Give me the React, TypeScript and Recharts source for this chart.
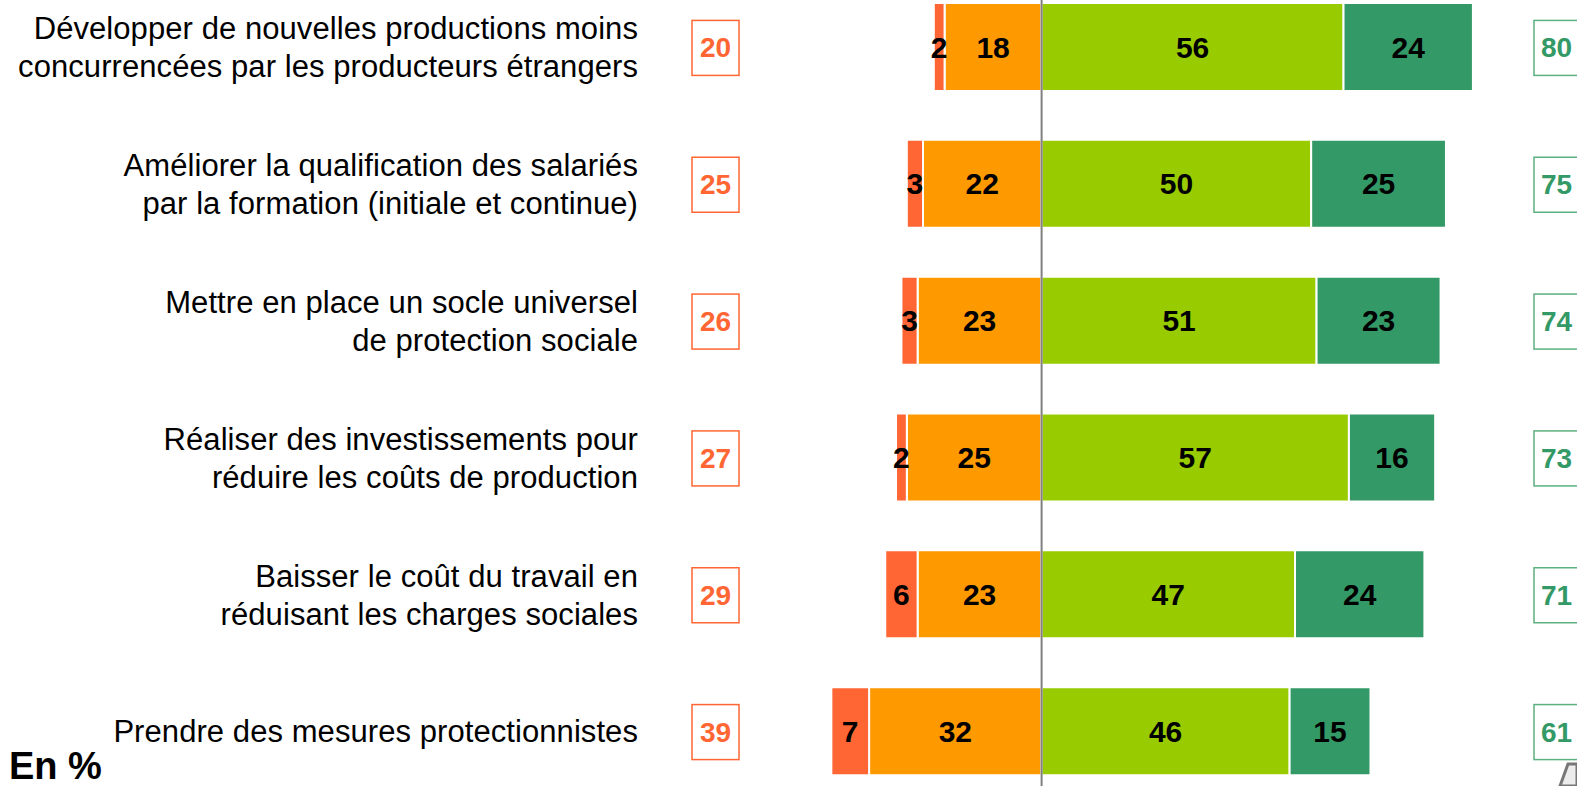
import { BarChart, Bar, XAxis, YAxis, ReferenceLine, LabelList } from "recharts";

const categories = [
  "Développer de nouvelles productions moins\nconcurrencées par les producteurs étrangers",
  "Améliorer la qualification des salariés\npar la formation (initiale et continue)",
  "Mettre en place un socle universel\nde protection sociale",
  "Réaliser des investissements pour\nréduire les coûts de production",
  "Baisser le coût du travail en\nréduisant les charges sociales",
  "Prendre des mesures protectionnistes",
];

// pas du tout efficace / plutôt pas efficace / plutôt efficace / très efficace
const notAtAll = [2, 3, 3, 2, 6, 7];
const ratherNot = [18, 22, 23, 25, 23, 32];
const rather = [56, 50, 51, 57, 47, 46];
const very = [24, 25, 23, 16, 24, 15];

const negTotals = [20, 25, 26, 27, 29, 39];
const posTotals = [80, 75, 74, 73, 71, 61];

const RED = "#FF6633";
const ORANGE = "#FF9900";
const LIGHT_GREEN = "#99CC00";
const DARK_GREEN = "#339966";

const data = categories.map((name, i) => ({
  name,
  ratherNot: -ratherNot[i],
  notAtAll: -notAtAll[i],
  rather: rather[i],
  very: very[i],
}));

function RowTick(props: any) {
  const { y, payload } = props;
  const idx = categories.indexOf(payload.value);
  const lines = String(payload.value).split("\n");
  const lineH = 38;
  const startY = y - ((lines.length - 1) * lineH) / 2;
  return (
    <g>
      <text textAnchor="end" fontSize={31} letterSpacing={0.07} fill="#000">
        {lines.map((l, k) => (
          <tspan key={k} x={638} y={startY + k * lineH} dy="0.35em">
            {l}
          </tspan>
        ))}
      </text>
      <rect x={692} y={y - 27} width={47} height={55} fill="#fff" stroke={RED} strokeWidth={1.5} />
      <text x={715.5} y={y} dy="0.36em" textAnchor="middle" fontSize={28} fontWeight="bold" fill={RED}>
        {negTotals[idx]}
      </text>
      <rect x={1534} y={y - 27} width={60} height={55} fill="#fff" stroke="#5DB07F" strokeWidth={1.5} />
      <text x={1541} y={y} dy="0.36em" textAnchor="start" fontSize={28} fontWeight="bold" fill={DARK_GREEN}>
        {posTotals[idx]}
      </text>
    </g>
  );
}

const absFmt = (v: any) => Math.abs(Number(v));
const labelStyle = { fill: "#000", fontSize: 30, fontWeight: "bold" as const };

export default function App() {
  return (
    <div
      style={{
        position: "absolute",
        left: 0,
        top: 0,
        width: 1577,
        height: 786,
        overflow: "hidden",
        background: "#fff",
        fontFamily: "'Liberation Sans', Arial, sans-serif",
      }}
    >
      <div style={{ position: "absolute", left: 0, top: -21 }}>
        <BarChart
          width={1577}
          height={821}
          data={data}
          layout="vertical"
          stackOffset="sign"
          barSize={88}
          margin={{ top: 0, right: 34, bottom: 0, left: 0 }}
        >
          <XAxis type="number" domain={[-45, 93]} allowDataOverflow hide />
          <YAxis
            type="category"
            dataKey="name"
            width={799}
            axisLine={false}
            tickLine={false}
            interval={0}
            tick={<RowTick />}
          />
          <Bar dataKey="ratherNot" stackId="a" fill={ORANGE} stroke="#fff" strokeWidth={2} isAnimationActive={false}>
            <LabelList dataKey="ratherNot" position="center" formatter={absFmt} {...labelStyle} />
          </Bar>
          <Bar dataKey="notAtAll" stackId="a" fill={RED} stroke="#fff" strokeWidth={2} isAnimationActive={false}>
            <LabelList dataKey="notAtAll" position="center" formatter={absFmt} {...labelStyle} />
          </Bar>
          <Bar dataKey="rather" stackId="a" fill={LIGHT_GREEN} stroke="#fff" strokeWidth={2} isAnimationActive={false}>
            <LabelList dataKey="rather" position="center" {...labelStyle} />
          </Bar>
          <Bar dataKey="very" stackId="a" fill={DARK_GREEN} stroke="#fff" strokeWidth={2} isAnimationActive={false}>
            <LabelList dataKey="very" position="center" {...labelStyle} />
          </Bar>
          <ReferenceLine x={0} stroke="#808080" strokeWidth={2} />
        </BarChart>
      </div>
      <svg style={{ position: "absolute", left: 0, top: 0 }} width={1577} height={786}>
        <text x={9} y={779} fontSize={38} fontWeight="bold" fill="#000">
          En %
        </text>
        <polygon points="1560,786 1568,764 1577,764 1577,786" fill="#ececec" stroke="#777" strokeWidth={3} />
      </svg>
    </div>
  );
}
